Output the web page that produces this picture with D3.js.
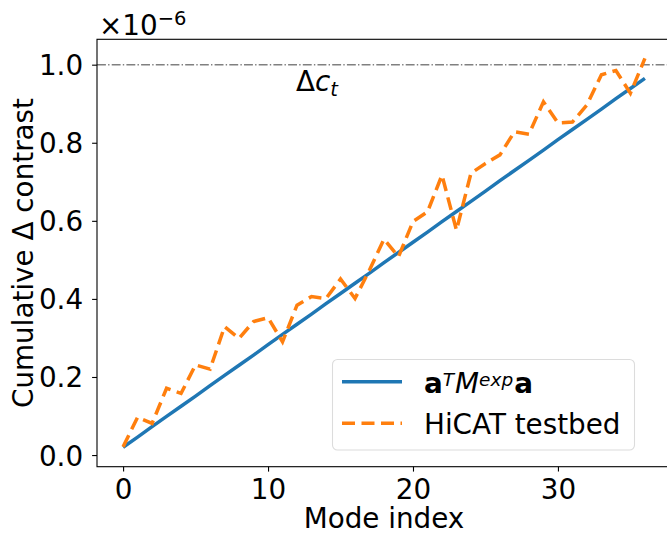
<!DOCTYPE html>
<html>
<head>
<meta charset="utf-8">
<script src="https://cdn.jsdelivr.net/npm/d3@7"></script>
<style>
  html, body { margin: 0; padding: 0; background: #fff; }
  svg { display: block; font-family: "DejaVu Sans", sans-serif; }
</style>
</head>
<body>
<div id="chart"></div>
<script>
// ---- data (values in units of 1e-6) ----
const modeIndex = d3.range(0, 37);
const modelValues = [0.020, 0.046, 0.073, 0.099, 0.125, 0.151, 0.178, 0.204, 0.230, 0.256,
  0.283, 0.309, 0.335, 0.361, 0.388, 0.414, 0.440, 0.466, 0.493, 0.519,
  0.545, 0.571, 0.598, 0.624, 0.650, 0.676, 0.703, 0.729, 0.755, 0.781,
  0.808, 0.834, 0.860, 0.886, 0.913, 0.939, 0.965];
const testbedValues = [0.021, 0.097, 0.081, 0.171, 0.158, 0.231, 0.220, 0.329, 0.299, 0.342,
  0.352, 0.290, 0.384, 0.406, 0.401, 0.451, 0.401, 0.474, 0.553, 0.508,
  0.598, 0.623, 0.717, 0.576, 0.722, 0.747, 0.769, 0.828, 0.822, 0.905,
  0.851, 0.853, 0.897, 0.974, 0.985, 0.927, 1.016];
const targetContrast = 1.0;
const xTicks = [0, 10, 20, 30];
const yTicks = [0.0, 0.2, 0.4, 0.6, 0.8, 1.0];
const seriesNames = ["model", "HiCAT testbed"];
const colors = ["#1f77b4", "#ff7f0e"];

// ---- layout ----
const W = 667, H = 535;
const mLeft = 97, mRight = 671, mTop = 39.3, mBottom = 466.7;
const FS = 27.8;

const svg = d3.select("#chart").append("svg").attr("width", W).attr("height", H);

const x = d3.scaleLinear().domain([-1.8, 37.8]).range([mLeft, mRight]);
const y = d3.scaleLinear().domain([-0.0298, 1.065]).range([mBottom, mTop]);

// horizontal target line
svg.append("line")
  .attr("x1", mLeft).attr("x2", mRight)
  .attr("y1", y(targetContrast)).attr("y2", y(targetContrast))
  .attr("stroke", "#808080").attr("stroke-width", 1.4)
  .attr("stroke-dasharray", "8.9,2.2,1.4,2.2");

// Δc_t label
const lab = svg.append("text").attr("x", 296).attr("y", 91)
  .attr("font-size", FS).attr("fill", "#000");
lab.append("tspan").text("Δ");
lab.append("tspan").attr("font-style", "italic").text("c");
lab.append("tspan").attr("font-style", "italic").attr("font-size", 19.5).attr("dy", 5).text("t");

const line = d3.line().x((d, i) => x(modeIndex[i])).y(d => y(d));

svg.append("path").datum(modelValues)
  .attr("d", line).attr("fill", "none")
  .attr("stroke", colors[0]).attr("stroke-width", 3.5);

svg.append("path").datum(testbedValues)
  .attr("d", line).attr("fill", "none")
  .attr("stroke", colors[1]).attr("stroke-width", 3.5)
  .attr("stroke-dasharray", "13,6.5");

// axes
const xAxis = d3.axisBottom(x).tickValues(xTicks).tickSize(4.9).tickPadding(6).tickFormat(d3.format("d"));
const gx = svg.append("g").attr("transform", `translate(0,${mBottom})`).call(xAxis);
gx.select(".domain").remove();
gx.selectAll("line").attr("stroke", "#000").attr("stroke-width", 1.1);
gx.selectAll("text").attr("font-size", FS).attr("fill", "#000")
  .attr("font-family", "DejaVu Sans").attr("dy", null).attr("y", 32.6);

const yAxis = d3.axisLeft(y).tickValues(yTicks).tickSize(4.9).tickPadding(9).tickFormat(d3.format(".1f"));
const gy = svg.append("g").attr("transform", `translate(${mLeft},0)`).call(yAxis);
gy.select(".domain").remove();
gy.selectAll("line").attr("stroke", "#000").attr("stroke-width", 1.1);
gy.selectAll("text").attr("font-size", FS).attr("fill", "#000")
  .attr("font-family", "DejaVu Sans").attr("dy", "10");

// spines
svg.append("rect").attr("x", mLeft).attr("y", mTop)
  .attr("width", mRight - mLeft).attr("height", mBottom - mTop)
  .attr("fill", "none").attr("stroke", "#000").attr("stroke-width", 1.1);

// offset text ×10^-6
const off = svg.append("text").attr("x", 99).attr("y", 35).attr("font-size", FS).attr("fill", "#000");
off.append("tspan").text("×10");
off.append("tspan").attr("font-size", 19.5).attr("dy", -10).text("−6");

// axis labels
svg.append("text").attr("x", (mLeft + mRight) / 2).attr("y", 528)
  .attr("text-anchor", "middle").attr("font-size", FS).attr("fill", "#000").text("Mode index");
svg.append("text").attr("transform", `translate(33,${(mTop + mBottom) / 2}) rotate(-90)`)
  .attr("text-anchor", "middle").attr("font-size", FS).attr("fill", "#000").text("Cumulative Δ contrast");

// legend
const lg = svg.append("g");
lg.append("rect").attr("x", 332.5).attr("y", 359.5).attr("width", 302).attr("height", 90.5)
  .attr("rx", 5).attr("ry", 5).attr("fill", "#fff").attr("fill-opacity", 0.8)
  .attr("stroke", "#dcdcdc").attr("stroke-width", 1.1);
lg.append("line").attr("x1", 342).attr("x2", 402).attr("y1", 381.7).attr("y2", 381.7)
  .attr("stroke", colors[0]).attr("stroke-width", 3.5);
lg.append("line").attr("x1", 342).attr("x2", 402).attr("y1", 423.3).attr("y2", 423.3)
  .attr("stroke", colors[1]).attr("stroke-width", 3.5).attr("stroke-dasharray", "13,6.5");
const t1 = lg.append("text").attr("x", 424).attr("y", 393.3).attr("font-size", FS).attr("fill", "#000");
t1.append("tspan").attr("font-weight", "bold").text("a");
t1.append("tspan").attr("font-style", "italic").attr("font-size", 18.5).attr("dy", -7.5).text("T");
t1.append("tspan").attr("font-style", "italic").attr("dy", 7.5).attr("dx", 1).text("M");
t1.append("tspan").attr("font-style", "italic").attr("font-size", 18.5).attr("dy", -7.5).text("exp");
t1.append("tspan").attr("font-weight", "bold").attr("dy", 7.5).attr("dx", 1).text("a");
lg.append("text").attr("x", 424).attr("y", 433.5).attr("font-size", FS).attr("fill", "#000").text(seriesNames[1]);
</script>
</body>
</html>
